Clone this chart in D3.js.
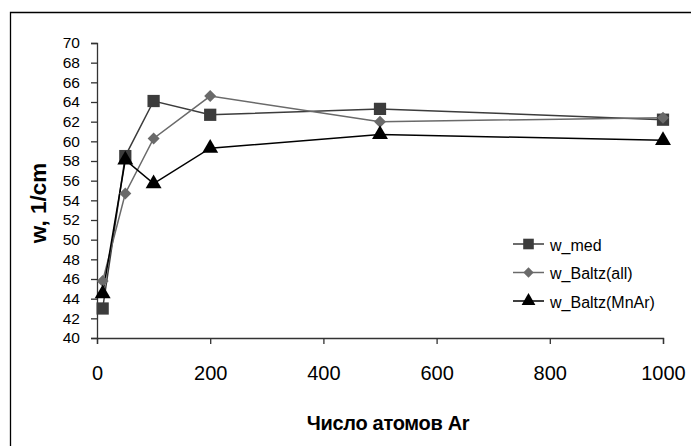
<!DOCTYPE html>
<html>
<head>
<meta charset="utf-8">
<script src="https://cdn.jsdelivr.net/npm/d3@7"></script>
<style>
  html, body { margin: 0; padding: 0; background: #fff; }
  svg { display: block; }
  text { font-family: "Liberation Sans", Arial, sans-serif; }
</style>
</head>
<body>
<svg id="chart" width="691" height="446"></svg>
<script>
// Number of Ar atoms (x) and frequency w in 1/cm for each series
const atoms = [10, 50, 100, 200, 500, 1000];
const wMed = [43.0, 58.5, 64.1, 62.7, 63.3, 62.2];
const wBaltzAll = [45.8, 54.7, 60.3, 64.6, 62.0, 62.4];
const wBaltzMnAr = [44.5, 58.1, 55.7, 59.3, 60.7, 60.1];

const xTicks = [0, 200, 400, 600, 800, 1000];
const yTicks = d3.range(40, 71, 2);

const seriesNames = ["w_med", "w_Baltz(all)", "w_Baltz(MnAr)"];
const seriesValues = [wMed, wBaltzAll, wBaltzMnAr];
const seriesColors = ["#3c3c3c", "#6a6a6a", "#000000"];
// diamond = square turned by 45 degrees
const seriesSymbols = [d3.symbolSquare, d3.symbolSquare, d3.symbolTriangle];
const symbolAngles = [0, 45, 0];
const symbolSizes = [150, 72, 110];

const xTitle = "Число атомов Ar";
const yTitle = "w, 1/cm";

const svg = d3.select("#chart");

// outer frame of the figure (continues past the right and bottom edges)
svg.append("path")
  .attr("d", "M10.5,460 L10.5,12.5 L700,12.5")
  .attr("fill", "none")
  .attr("stroke", "#000")
  .attr("stroke-width", 1.3);

const x = d3.scaleLinear().domain([0, 1000]).range([97, 663]);
const y = d3.scaleLinear().domain([40, 70]).range([338, 43]);

// axes
const xAxis = svg.append("g")
  .attr("transform", `translate(0,${y(40)})`)
  .call(d3.axisBottom(x).tickValues(xTicks).tickSize(6).tickPadding(22).tickFormat(d3.format("d")));
xAxis.selectAll("text").attr("font-size", 20).attr("fill", "#000");

const yAxis = svg.append("g")
  .attr("transform", `translate(${x(0)},0)`)
  .call(d3.axisLeft(y).tickValues(yTicks).tickSize(6).tickPadding(11).tickFormat(d3.format("d")));
yAxis.selectAll("text").attr("font-size", 15.5).attr("fill", "#000");

svg.selectAll(".domain, .tick line").attr("stroke", "#333").attr("stroke-width", 1.3);
svg.selectAll(".tick text").attr("font-family", "\"Liberation Sans\", Arial, sans-serif");

// axis titles
svg.append("text")
  .attr("x", 388).attr("y", 430)
  .attr("text-anchor", "middle")
  .attr("font-size", 20).attr("font-weight", "bold")
  .attr("letter-spacing", -0.3)
  .text(xTitle);

svg.append("text")
  .attr("transform", "translate(46,203) rotate(-90)")
  .attr("text-anchor", "middle")
  .attr("font-size", 22.5).attr("font-weight", "bold")
  .text(yTitle);

// series lines and markers
const line = d3.line().x((d, i) => x(atoms[i])).y(d => y(d));

seriesValues.forEach((vals, s) => {
  svg.append("path")
    .datum(vals)
    .attr("d", line)
    .attr("fill", "none")
    .attr("stroke", seriesColors[s])
    .attr("stroke-width", 1.5);
});

seriesValues.forEach((vals, s) => {
  svg.append("g").selectAll("path")
    .data(vals)
    .join("path")
    .attr("transform", (d, i) => `translate(${x(atoms[i])},${y(d)}) rotate(${symbolAngles[s]})`)
    .attr("d", d3.symbol().type(seriesSymbols[s]).size(symbolSizes[s]))
    .attr("fill", seriesColors[s]);
});

// legend
const legend = svg.append("g").attr("transform", "translate(513,244)");
seriesNames.forEach((name, s) => {
  const g = legend.append("g").attr("transform", `translate(0,${s * 28.5})`);
  g.append("line")
    .attr("x1", 0).attr("x2", 31).attr("y1", 0).attr("y2", 0)
    .attr("stroke", seriesColors[s]).attr("stroke-width", 1.5);
  g.append("path")
    .attr("transform", `translate(15.5,0) rotate(${symbolAngles[s]})`)
    .attr("d", d3.symbol().type(seriesSymbols[s]).size(symbolSizes[s] * 0.75))
    .attr("fill", seriesColors[s]);
  g.append("text")
    .attr("x", 37).attr("y", 6.5)
    .attr("font-size", 16)
    .text(name);
});
</script>
</body>
</html>
